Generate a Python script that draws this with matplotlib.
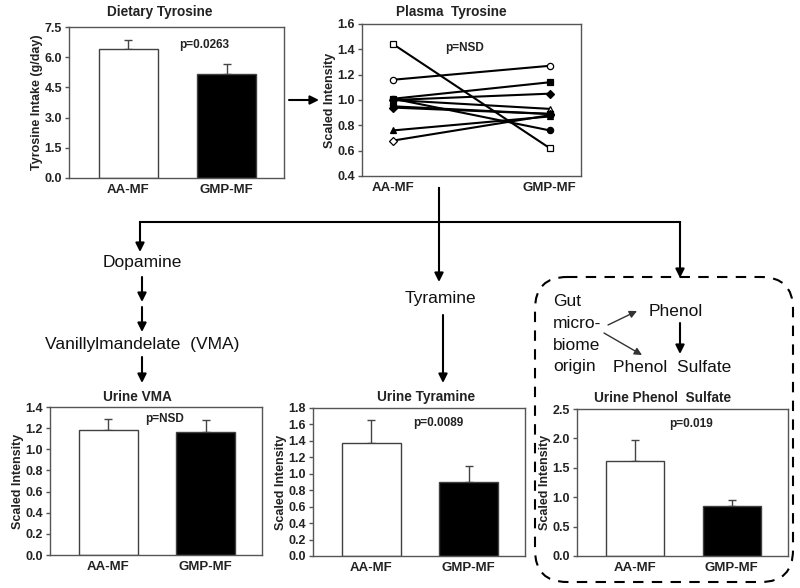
import numpy as np
import matplotlib
matplotlib.use('Agg')
import matplotlib.pyplot as plt
from matplotlib.patches import FancyBboxPatch

plt.rcParams['font.family'] = ['Liberation Sans', 'DejaVu Sans']

# 数据
groups = ['AA-MF', 'GMP-MF']

diet_mean = [6.4, 5.15]
diet_err = [0.45, 0.5]

vma_mean = [1.18, 1.16]
vma_err = [0.11, 0.12]

tyramine_mean = [1.37, 0.90]
tyramine_err = [0.29, 0.20]

phenol_mean = [1.62, 0.85]
phenol_err = [0.36, 0.11]

# 血浆酪氨酸 (AA-MF, GMP-MF)
plasma_aa = [1.44, 1.16, 1.01, 1.00, 1.00, 0.95, 1.01, 0.76, 0.68, 0.94]
plasma_gmp = [0.62, 1.27, 1.14, 1.05, 0.93, 0.89, 0.76, 0.87, 0.88, 0.89]
plasma_marker = ['s', 'o', 's', 'D', '^', 's', 'o', '^', 'D', 'D']
plasma_filled = [False, False, True, True, False, True, True, True, False, True]

W, H = 800, 588
fig = plt.figure(figsize=(W / 100, H / 100), dpi=100)

SPINE = '#555555'
TXT = '#222222'


def add_ax(left, top, right, bottom):
    return fig.add_axes([left / W, 1 - bottom / H, (right - left) / W, (bottom - top) / H])


def style_ax(ax, yticks, fmt='%.1f'):
    for s in ax.spines.values():
        s.set_color(SPINE)
        s.set_linewidth(1)
    ax.set_yticks(yticks)
    ax.set_yticklabels([fmt % v for v in yticks], fontsize=9, fontweight='bold', color=TXT)
    ax.set_ylim(yticks[0], yticks[-1])
    ax.tick_params(axis='y', direction='out', length=3, width=1, color=SPINE, pad=2)
    ax.tick_params(axis='x', length=0, pad=4)
    for lab in ax.get_xticklabels():
        lab.set_fontsize(9.5)
        lab.set_fontweight('bold')
        lab.set_color(TXT)


def bar_panel(ax, means, errs, yticks, ylabel, ptext, px, py):
    x = np.arange(len(groups))
    ax.bar(x, means, width=0.6, color=['white', 'black'], edgecolor='#404040', linewidth=1, zorder=2)
    ax.errorbar(x, means, yerr=[[0, 0], errs], fmt='none', ecolor='#444444',
                elinewidth=1, capsize=3, capthick=1, zorder=1)
    ax.set_xlim(-0.6, 1.58)
    ax.set_xticks(x)
    ax.set_xticklabels(groups)
    style_ax(ax, yticks)
    ax.set_ylabel(ylabel, fontsize=9, fontweight='bold', labelpad=1, color=TXT)
    ax.text(px, py, ptext, transform=ax.transAxes, ha='center', va='center',
            fontsize=8.5, fontweight='bold', color=TXT)


# 流程图底层
ov = fig.add_axes([0, 0, 1, 1])
ov.set_xlim(0, W)
ov.set_ylim(H, 0)
ov.axis('off')

# 饮食酪氨酸
ax1 = add_ax(69, 27, 284, 178)
bar_panel(ax1, diet_mean, diet_err, np.arange(0, 7.6, 1.5), 'Tyrosine Intake (g/day)',
          'p=0.0263', 0.63, 0.88)

# 血浆酪氨酸
ax2 = add_ax(362, 24, 581, 176)
for a, g, m, f in zip(plasma_aa, plasma_gmp, plasma_marker, plasma_filled):
    ax2.plot([0, 1], [a, g], color='black', lw=1.5, marker=m, ms=4.5,
             mfc='black' if f else 'white', mec='black', mew=0.9)
ax2.set_xlim(-0.2, 1.2)
ax2.set_xticks([0, 1])
ax2.set_xticklabels(groups)
style_ax(ax2, np.round(np.arange(0.4, 1.61, 0.2), 1))
ax2.set_ylabel('Scaled Intensity', fontsize=9, fontweight='bold', labelpad=1, color=TXT)
ax2.text(0.47, 0.84, 'p=NSD', transform=ax2.transAxes, ha='center', va='center',
         fontsize=8.5, fontweight='bold', color=TXT)

# 尿液 VMA
ax3 = add_ax(50, 407, 262, 555)
bar_panel(ax3, vma_mean, vma_err, np.round(np.arange(0, 1.41, 0.2), 1), 'Scaled Intensity',
          'p=NSD', 0.54, 0.92)

# 尿液酪胺
ax4 = add_ax(313, 408, 525, 556)
bar_panel(ax4, tyramine_mean, tyramine_err, np.round(np.arange(0, 1.81, 0.2), 1), 'Scaled Intensity',
          'p=0.0089', 0.59, 0.90)

# 尿液苯酚硫酸盐
ax5 = add_ax(577, 409, 788, 556)
bar_panel(ax5, phenol_mean, phenol_err, np.arange(0, 2.51, 0.5), 'Scaled Intensity',
          'p=0.019', 0.54, 0.90)

# 标题
title_kw = dict(ha='center', va='center', fontsize=9.8, fontweight='bold', color=TXT)
ov.text(160, 12, 'Dietary Tyrosine', **title_kw)
ov.text(451, 12, 'Plasma  Tyrosine', **title_kw)
ov.text(137, 397, 'Urine VMA', **title_kw)
ov.text(426, 397, 'Urine Tyramine', **title_kw)
ov.text(663, 398, 'Urine Phenol  Sulfate', **title_kw)

# 箭头
def arrow(x0, y0, x1, y1, lw=1.5, color='black', ms=13):
    ov.annotate('', xy=(x1, y1), xytext=(x0, y0),
                arrowprops=dict(arrowstyle='-|>', mutation_scale=ms, lw=lw, color=color,
                                shrinkA=0, shrinkB=0))


arrow(289, 100, 319, 100)
ov.plot([439, 439], [188, 222], color='black', lw=1.5)
ov.plot([140, 680], [222, 222], color='black', lw=1.5)
arrow(140, 222, 140, 252)
arrow(439, 222, 439, 282)
arrow(680, 222, 680, 278)
arrow(142, 277, 142, 302)
arrow(142, 307, 142, 332)
arrow(142, 357, 142, 383)
arrow(443, 315, 443, 383)

flow_kw = dict(ha='center', va='center', fontsize=12.5, color='#111111')
ov.text(142, 262, 'Dopamine', **flow_kw)
ov.text(142, 344, 'Vanillylmandelate  (VMA)', **flow_kw)
ov.text(440, 298, 'Tyramine', **flow_kw)

# 虚线框
box = FancyBboxPatch((535, 277), 258, 305, boxstyle='round,pad=0,rounding_size=32',
                     fill=False, edgecolor='black', lw=1.5, linestyle=(0, (5, 4)))
ov.add_patch(box)

for txt, y in zip(['Gut', 'micro-', 'biome', 'origin'], [301, 323, 345, 367]):
    ov.text(553, y, txt, ha='left', va='center', fontsize=12.5, color='#111111')
ov.text(676, 311, 'Phenol', **flow_kw)
ov.text(672, 367, 'Phenol  Sulfate', **flow_kw)
arrow(608, 325, 637, 311, lw=1, color='#333333', ms=11)
arrow(604, 333, 642, 355, lw=1, color='#333333', ms=11)
arrow(680, 323, 680, 354)

fig.savefig('out.png', dpi=100)
